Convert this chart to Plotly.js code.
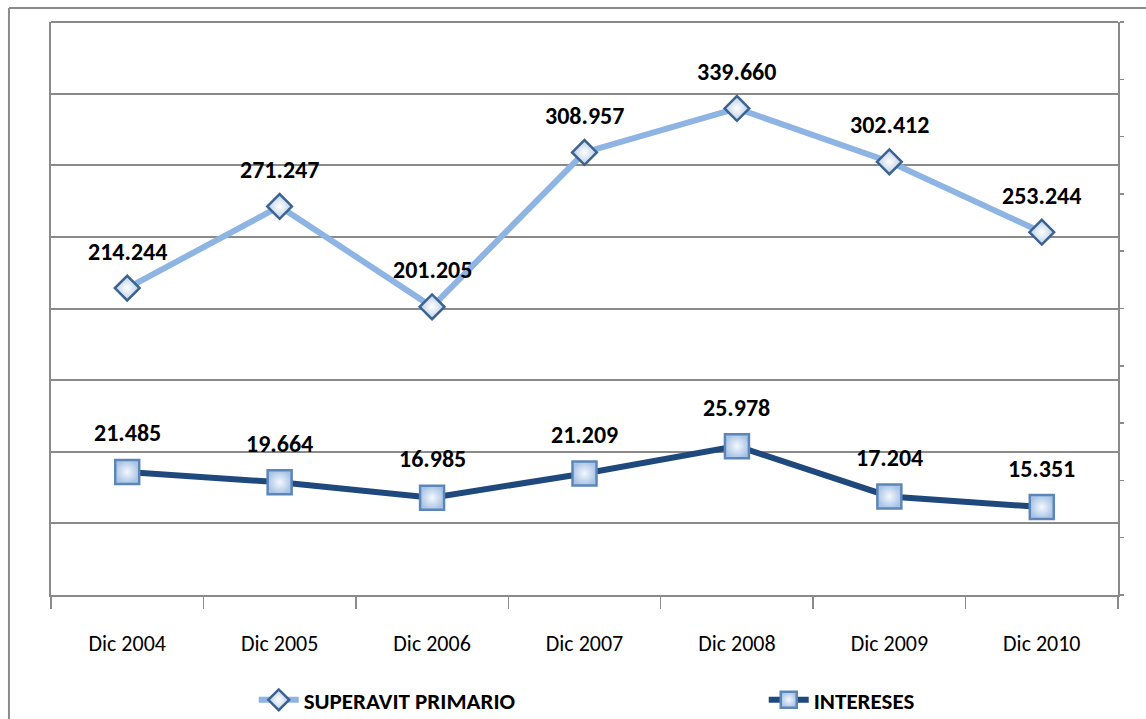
<!DOCTYPE html>
<html>
<head>
<meta charset="utf-8">
<script src="https://cdn.plot.ly/plotly-3.0.1.min.js"></script>
<style>html,body{margin:0;padding:0;background:#fff;}#chart{width:1146px;height:719px;}</style>
</head>
<body>
<div id="chart"></div>
<script>
const categories = ["Dic 2004", "Dic 2005", "Dic 2006", "Dic 2007", "Dic 2008", "Dic 2009", "Dic 2010"];
const superavit = [214.244, 271.247, 201.205, 308.957, 339.660, 302.412, 253.244];
const intereses = [21.485, 19.664, 16.985, 21.209, 25.978, 17.204, 15.351];
const seriesNames = ["SUPERAVIT PRIMARIO", "INTERESES"];

const grid = '#8a8a8a';
const labelFont = {family: 'Carlito, Calibri, Lato, sans-serif', size: 24, color: '#000', weight: 'bold'};

const traces = [
  {
    x: categories, y: superavit, name: seriesNames[0], type: 'scatter', mode: 'lines+markers',
    yaxis: 'y',
    line: {color: '#8db4e2', width: 6},
    marker: {symbol: 'diamond', size: 19, color: '#b9cde6',
      gradient: {type: 'radial', color: '#ffffff'},
      line: {color: '#3b6391', width: 2.5}},
    cliponaxis: false
  },
  {
    x: categories, y: intereses, name: seriesNames[1], type: 'scatter', mode: 'lines+markers',
    yaxis: 'y2',
    line: {color: '#1f497d', width: 6},
    marker: {symbol: 'square', size: 24, color: '#a9c4e6',
      gradient: {type: 'radial', color: '#f4f8fd'},
      line: {color: '#5d86b8', width: 2.5}},
    cliponaxis: false
  }
];

const annotations = [];
superavit.forEach((v, i) => annotations.push({
  x: categories[i], y: v, xref: 'x', yref: 'y', text: v.toFixed(3),
  showarrow: false, yshift: 37, font: labelFont
}));
intereses.forEach((v, i) => annotations.push({
  x: categories[i], y: v, xref: 'x', yref: 'y2', text: v.toFixed(3),
  showarrow: false, yshift: 39, font: labelFont
}));

const layout = {
  width: 1146, height: 719,
  margin: {l: 51, r: 28, t: 22, b: 124, autoexpand: false},
  paper_bgcolor: '#fff', plot_bgcolor: '#fff',
  showlegend: true,
  legend: {orientation: 'h', x: 0.19, xanchor: 'left', y: -0.183, yanchor: 'middle',
    font: {family: 'Carlito, Calibri, Lato, sans-serif', size: 23, color: '#000', weight: 'bold'},
    entrywidth: 455, itemwidth: 40, bgcolor: 'rgba(0,0,0,0)'},
  xaxis: {
    type: 'category', range: [-0.5, 6.5], autorange: false,
    tickson: 'boundaries', ticks: 'outside', ticklen: 12, tickwidth: 1.5, tickcolor: grid,
    showline: true, linecolor: grid, linewidth: 2, showgrid: false, zeroline: false,
    tickfont: {family: 'Carlito, Calibri, Lato, sans-serif', size: 22, color: '#000'},
    ticklabelstandoff: 28, fixedrange: true, automargin: false
  },
  yaxis: {
    range: [0, 400], dtick: 50, tick0: 0, showticklabels: false, ticks: '',
    showgrid: true, gridcolor: grid, gridwidth: 2, showline: true, linecolor: grid, linewidth: 2,
    zeroline: false, mirror: false, automargin: false
  },
  yaxis2: {
    range: [0, 100], dtick: 10, tick0: 0, overlaying: 'y', side: 'right', showticklabels: false,
    ticks: 'outside', ticklen: 4, tickcolor: grid, tickwidth: 1.5,
    showgrid: false, showline: true, linecolor: grid, linewidth: 2, zeroline: false, automargin: false
  },
  annotations: annotations,
  shapes: [
    {type: 'line', xref: 'paper', yref: 'paper', x0: -0.0394, x1: 1.2, y0: 1.0244, y1: 1.0244,
      line: {color: '#8a8a8a', width: 2}, layer: 'below'},
    {type: 'line', xref: 'paper', yref: 'paper', x0: -0.0394, x1: -0.0394, y0: 1.0244, y1: -0.4,
      line: {color: '#8a8a8a', width: 2}, layer: 'below'},
    {type: 'line', xref: 'paper', yref: 'paper', x0: 0, x1: 1, y0: 1, y1: 1,
      line: {color: grid, width: 2}, layer: 'below'}
  ]
};

Plotly.newPlot('chart', traces, layout, {displayModeBar: false, staticPlot: true});
</script>
</body>
</html>
